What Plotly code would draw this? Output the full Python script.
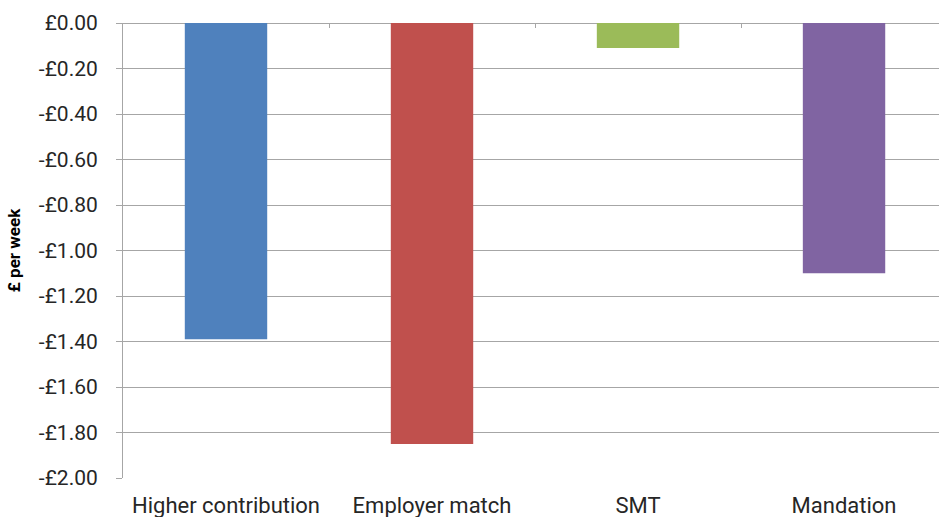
import plotly.graph_objects as go

# data (£ per week)
categories = ["Higher contribution", "Employer match", "SMT", "Mandation"]
values = [-1.39, -1.85, -0.11, -1.10]
bar_colors = ["#4F81BD", "#C0504D", "#9BBB59", "#8064A2"]

tick_vals = [0.0, -0.2, -0.4, -0.6, -0.8, -1.0, -1.2, -1.4, -1.6, -1.8, -2.0]
tick_text = ["£0.00", "-£0.20", "-£0.40", "-£0.60", "-£0.80", "-£1.00",
             "-£1.20", "-£1.40", "-£1.60", "-£1.80", "-£2.00"]

grey = "#A6A6A6"
txt = "#262626"
font = "Roboto"

fig = go.Figure()
fig.add_trace(go.Bar(
    x=categories,
    y=values,
    marker=dict(color=bar_colors, line=dict(width=0)),
    width=0.4,
    showlegend=False,
))
# empty trace so the top axis (category dividers) gets drawn
fig.add_trace(go.Scatter(x=[0], y=[None], xaxis="x2", showlegend=False, hoverinfo="skip"))

# plot area runs a bit past the right edge, like the original
x_range = [-0.5, 3.461]

fig.update_layout(
    width=939,
    height=517,
    margin=dict(l=123, r=0, t=23, b=39),
    paper_bgcolor="white",
    plot_bgcolor="white",
    font=dict(family=font, color=txt),
    xaxis=dict(
        range=x_range,
        automargin=False,
        showgrid=False,
        showline=False,
        zeroline=False,
        ticks="outside",
        ticklen=6,
        tickcolor="rgba(0,0,0,0)",
        ticklabelstandoff=2,
        tickfont=dict(size=22, family=font, color=txt),
    ),
    xaxis2=dict(
        overlaying="x",
        side="top",
        type="linear",
        range=x_range,
        automargin=False,
        tickvals=[0.5, 1.5, 2.5],
        ticks="inside",
        ticklen=5,
        tickwidth=1,
        tickcolor=grey,
        showticklabels=False,
        showgrid=False,
        zeroline=False,
        showline=False,
    ),
    yaxis=dict(
        range=[-2.0, 0.0],
        automargin=False,
        tickvals=tick_vals,
        ticktext=tick_text,
        ticks="outside",
        ticklen=6,
        tickcolor=grey,
        showline=True,
        linecolor=grey,
        linewidth=1,
        showgrid=True,
        gridcolor=grey,
        gridwidth=1,
        zeroline=True,
        zerolinecolor=grey,
        zerolinewidth=1,
        ticklabelstandoff=14,
        tickfont=dict(size=21, family=font, color=txt),
        title=dict(
            text="<b>£ per week</b>",
            font=dict(size=17, family=font, color="#000000"),
            standoff=13,
        ),
    ),
    bargap=0.6,
)

# drop the default 8px body margin so the figure fills the window exactly
fig.write_html(
    "out.html",
    config={"displayModeBar": False},
    post_script="document.body.style.margin='0px';",
)
